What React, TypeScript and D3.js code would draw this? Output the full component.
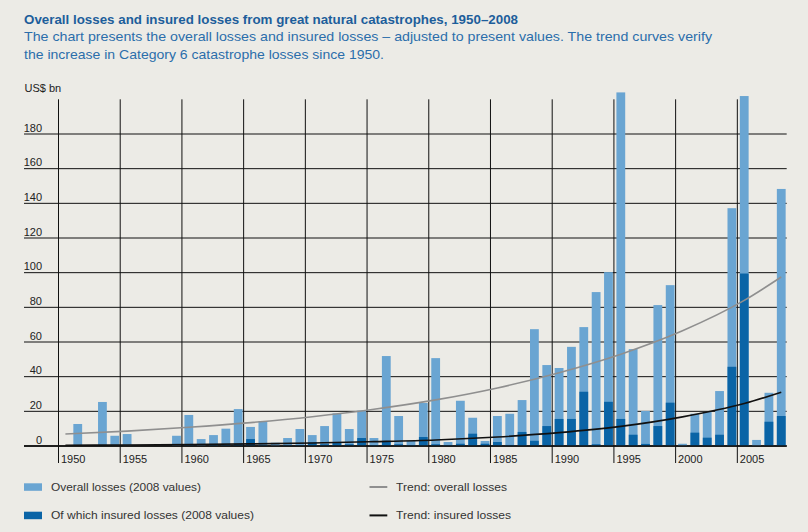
import React from "react";
import * as d3 from "d3";

const years: number[] = d3.range(1950, 2009);
const overallLosses: number[] = [
  0, 12.7, 0, 25.4, 5.9, 6.9, 0, 0, 0, 5.9,
  17.9, 4.0, 6.3, 10.0, 21.3, 11.0, 14.4, 1.9, 4.6, 9.8,
  6.3, 11.5, 18.8, 9.8, 20.4, 4.6, 51.9, 17.3, 2.9, 24.8,
  50.7, 2.3, 26.1, 16.3, 2.9, 17.3, 18.6, 26.5, 67.4, 46.7,
  45.0, 57.2, 68.6, 88.8, 100.3, 204.0, 55.9, 20.2, 81.3, 92.8,
  1.3, 18.6, 19.6, 31.7, 137.2, 201.9, 3.5, 30.7, 148.3,
];
const insuredLosses: number[] = [
  0, 0.5, 0, 0.5, 0, 0, 0, 0, 0, 0,
  0.5, 0, 0.5, 0.5, 1.0, 4.0, 0.5, 0, 0.5, 0.5,
  2.0, 1.0, 2.0, 1.0, 4.6, 0.5, 2.9, 1.0, 0.5, 5.2,
  1.0, 0.5, 1.3, 7.1, 1.3, 2.3, 0.6, 8.1, 3.0, 11.5,
  15.6, 15.6, 31.3, 1.0, 25.5, 15.6, 6.5, 1.2, 11.5, 25.0,
  0, 7.7, 4.8, 6.5, 45.7, 99.5, 0, 14.0, 17.3,
];
const trendYears: number[] = [1950, 1955, 1960, 1965, 1970, 1975, 1980, 1985, 1990, 1995, 2000, 2005, 2008];
const trendOverall: number[] = [6.9, 8.6, 10.8, 13.5, 16.9, 21.2, 26.6, 33.5, 42.3, 53.0, 66.5, 84.0, 97.5];
const trendInsured: number[] = [0.4, 0.6, 0.85, 1.2, 1.7, 2.5, 3.5, 5.2, 7.7, 11.3, 16.8, 24.5, 31.0];
const yTicks: number[] = [0, 20, 40, 60, 80, 100, 120, 140, 160, 180];
const xTicks: number[] = [1950, 1955, 1960, 1965, 1970, 1975, 1980, 1985, 1990, 1995, 2000, 2005];

const W = 808;
const H = 532;
const LIGHT = "#6aa5d2";
const DARK = "#0a64a6";
const BG = "#ecebe6";
const FONT = "'Liberation Sans', Arial, sans-serif";

export default function App() {
  const x = d3.scaleLinear().domain([1950, 2009]).range([58.5, 786.7]);
  const y = d3.scaleLinear().domain([0, 180]).range([446, 134]);
  const barOff = 2.5;
  const barW = 8.8;
  const cx = (yr: number) => x(yr) + barOff + barW / 2;

  const line = d3
    .line<[number, number]>()
    .x((d) => cx(d[0]))
    .y((d) => y(d[1]))
    .curve(d3.curveMonotoneX);

  const overallPath = line(trendYears.map((yr, i) => [yr, trendOverall[i]]) as [number, number][]) || "";
  const insuredPath = line(trendYears.map((yr, i) => [yr, trendInsured[i]]) as [number, number][]) || "";

  return (
    <svg
      width={W}
      height={H}
      style={{ position: "absolute", left: 0, top: 0, display: "block" }}
      fontFamily={FONT}
    >
      <rect x={0} y={0} width={W} height={H} fill={BG} />

      {/* titles */}
      <text x={24} y={23.5} fontSize={13} fontWeight="bold" fill="#1d5e9b" textLength={494} lengthAdjust="spacingAndGlyphs">
        Overall losses and insured losses from great natural catastrophes, 1950–2008
      </text>
      <text x={24} y={40.7} fontSize={13.5} fill="#2b6eab" textLength={688} lengthAdjust="spacingAndGlyphs">
        The chart presents the overall losses and insured losses – adjusted to present values. The trend curves verify
      </text>
      <text x={24} y={58.5} fontSize={13.5} fill="#2b6eab" textLength={360} lengthAdjust="spacingAndGlyphs">
        the increase in Category 6 catastrophe losses since 1950.
      </text>
      <text x={24.5} y={91.5} fontSize={11} fill="#222">US$ bn</text>

      {/* horizontal gridlines */}
      {yTicks.map((t) => (
        <g key={"h" + t}>
          <line x1={24} x2={786.7} y1={y(t)} y2={y(t)} stroke="#111" strokeWidth={t === 0 ? 1.4 : 1} />
          <text x={42} y={y(t) - 2.5} fontSize={11} fill="#222" textAnchor="end">
            {t}
          </text>
        </g>
      ))}

      {/* vertical gridlines */}
      {xTicks.map((t) => (
        <g key={"v" + t}>
          <line x1={x(t)} x2={x(t)} y1={99.3} y2={463} stroke="#111" strokeWidth={1} />
          <text x={x(t) + 2.5} y={463} fontSize={11} fill="#222">
            {t}
          </text>
        </g>
      ))}

      {/* bars */}
      {years.map((yr, i) =>
        overallLosses[i] > 0 ? (
          <rect key={"o" + yr} x={x(yr) + barOff} width={barW} y={y(overallLosses[i])} height={y(0) - y(overallLosses[i])} fill={LIGHT} />
        ) : null
      )}
      {years.map((yr, i) =>
        insuredLosses[i] > 0 ? (
          <rect key={"i" + yr} x={x(yr) + barOff} width={barW} y={y(insuredLosses[i])} height={y(0) - y(insuredLosses[i])} fill={DARK} />
        ) : null
      )}

      {/* baseline */}
      <line x1={24} x2={786.7} y1={y(0)} y2={y(0)} stroke="#111" strokeWidth={1.4} />

      {/* trends */}
      <path d={overallPath} fill="none" stroke="#8f8f8f" strokeWidth={1.6} />
      <path d={insuredPath} fill="none" stroke="#111" strokeWidth={1.6} />

      {/* legend */}
      <rect x={24} y={483.3} width={18} height={7.5} fill={LIGHT} />
      <text x={51} y={490.5} fontSize={11} fill="#333" textLength={150} lengthAdjust="spacingAndGlyphs">Overall losses (2008 values)</text>
      <rect x={24} y={511.7} width={18} height={7.5} fill={DARK} />
      <text x={51} y={519} fontSize={11} fill="#333" textLength={203} lengthAdjust="spacingAndGlyphs">Of which insured losses (2008 values)</text>

      <line x1={369.5} x2={387.3} y1={487} y2={487} stroke="#8f8f8f" strokeWidth={2} />
      <text x={396} y={490.5} fontSize={11} fill="#333" textLength={111} lengthAdjust="spacingAndGlyphs">Trend: overall losses</text>
      <line x1={369.5} x2={387.3} y1={515.4} y2={515.4} stroke="#111" strokeWidth={2} />
      <text x={396} y={519} fontSize={11} fill="#333" textLength={115} lengthAdjust="spacingAndGlyphs">Trend: insured losses</text>
    </svg>
  );
}
